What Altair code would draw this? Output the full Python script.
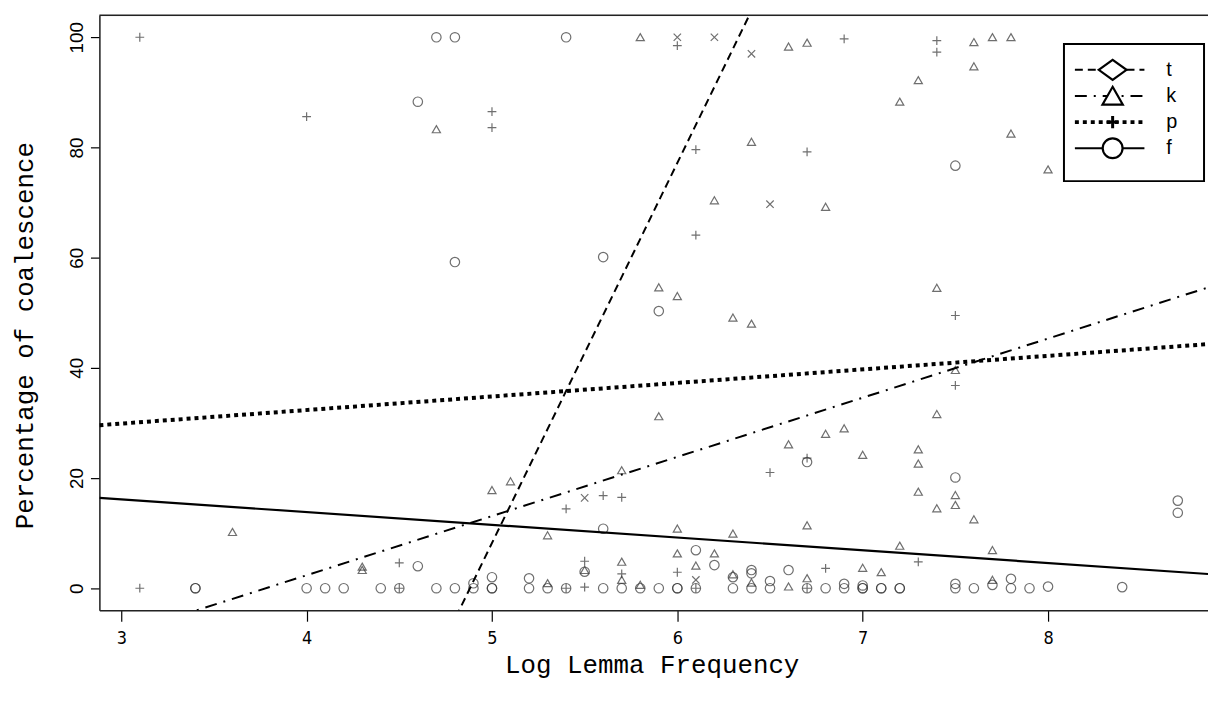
import altair as alt
import pandas as pd

# ---------------- data ----------------
series_names = ["t", "k", "p", "f"]

t_x = [5.5, 6.0, 6.2, 6.4, 6.5, 6.1]
t_y = [16.4, 100, 100, 97, 69.7, 1.5]

k_x = [3.6, 4.3, 4.3, 4.7, 5.0, 5.1, 5.3, 5.3, 5.5, 5.7, 5.7, 5.7, 5.8, 5.8, 5.9, 5.9,
       6.0, 6.0, 6.0, 6.1, 6.2, 6.2, 6.3, 6.3, 6.3, 6.4, 6.4, 6.4, 6.6, 6.6, 6.6, 6.7,
       6.7, 6.7, 6.8, 6.8, 6.9, 7.0, 7.0, 7.1, 7.2, 7.2, 7.3, 7.3, 7.3, 7.3, 7.4, 7.4,
       7.4, 7.5, 7.5, 7.5, 7.6, 7.6, 7.6, 7.7, 7.7, 7.7, 7.8, 7.8, 8.0]
k_y = [10.2, 3.3, 3.9, 83.3, 17.8, 19.4, 9.6, 0.9, 3.3, 21.4, 4.8, 1.5, 100, 0.6, 54.6, 31.2,
       53.0, 10.8, 6.3, 4.1, 70.4, 6.3, 49.1, 9.9, 2.5, 81, 48, 1.0, 98.3, 26.1, 0.3, 99,
       11.4, 1.8, 69.2, 28, 29, 24.2, 3.7, 2.9, 88.3, 7.7, 92.2, 25.2, 22.6, 17.5, 54.5, 31.6,
       14.5, 39.6, 16.9, 15.1, 99.1, 94.7, 12.5, 100, 6.9, 1.5, 100, 82.5, 76]

p_x = [3.1, 3.1, 4.0, 4.5, 4.5, 5.0, 5.0, 5.4, 5.4, 5.5, 5.5, 5.6, 5.7, 5.7, 6.0, 6.0,
       6.1, 6.1, 6.1, 6.5, 6.7, 6.7, 6.7, 6.8, 6.9, 7.3, 7.4, 7.4, 7.5, 7.5]
p_y = [100, 0, 85.6, 4.6, 0, 86.5, 83.6, 14.4, 0, 4.9, 0.2, 16.8, 16.5, 2.6, 98.5, 2.9,
       79.6, 64.1, 0, 21, 79.2, 23.6, 0, 3.6, 99.7, 4.8, 99.4, 97.3, 49.5, 36.8]

f_x = [3.4, 3.4, 4.0, 4.1, 4.2, 4.4, 4.5, 4.6, 4.6, 4.7, 4.7, 4.8, 4.8, 4.8, 4.9, 4.9,
       5.0, 5.0, 5.0, 5.2, 5.2, 5.3, 5.4, 5.4, 5.5, 5.6, 5.6, 5.6, 5.7, 5.8, 5.9, 5.9,
       6.0, 6.0, 6.1, 6.1, 6.2, 6.3, 6.3, 6.4, 6.4, 6.4, 6.5, 6.5, 6.6, 6.7, 6.7, 6.8,
       6.9, 6.9, 7.0, 7.0, 7.0, 7.1, 7.1, 7.2, 7.2, 7.5, 7.5, 7.5, 7.5, 7.6, 7.7, 7.8,
       7.8, 7.9, 8.0, 8.4, 8.7, 8.7]
f_y = [0, 0, 0, 0, 0, 0, 0, 88.3, 4.0, 100, 0, 100, 59.2, 0, 0.9, 0,
       2.0, 0, 0, 1.8, 0, 0, 100, 0, 3.0, 60.1, 10.8, 0, 0, 0, 50.3, 0,
       0, 0, 6.9, 0, 4.2, 2.0, 0, 3.3, 2.7, 0, 1.3, 0, 3.3, 22.9, 0, 0,
       0.8, 0, 0.5, 0, 0, 0, 0, 0, 0, 76.7, 20.1, 0.8, 0, 0, 0.6, 1.7,
       0, 0, 0.3, 0.2, 15.9, 13.7]

# regression lines (intercept, slope) per series
line_intercepts = [-336.8, -40.6, 22.5, 23.06]
line_slopes = [69.0, 10.74, 2.46, -2.31]

x_ticks = [3, 4, 5, 6, 7, 8]
y_ticks = [0, 20, 40, 60, 80, 100]

# ---------------- build tables ----------------
X_DOMAIN = [2.882, 8.863]
Y_DOMAIN = [-4, 104]
W, H = 1116, 599

pts = pd.concat([
    pd.DataFrame({"series": s, "x": xs, "y": ys})
    for s, xs, ys in zip(series_names, [t_x, k_x, p_x, f_x], [t_y, k_y, p_y, f_y])
], ignore_index=True)

lines = pd.DataFrame([
    {"series": s, "x": xv, "y": a + b * xv}
    for s, a, b in zip(series_names, line_intercepts, line_slopes)
    for xv in X_DOMAIN
])

X_PATH = "M-1,-1L1,1M-1,1L1,-1"
PLUS_PATH = "M-1,0L1,0M0,-1L0,1"
TRI_PATH = "M0,-0.9L1,0.85L-1,0.85Z"

x_scale = alt.Scale(domain=X_DOMAIN, nice=False, zero=False)
y_scale = alt.Scale(domain=Y_DOMAIN, nice=False, zero=False)

x_axis = alt.Axis(
    values=x_ticks, format="d", grid=False,
    tickSize=11, tickWidth=1.2, tickColor="black",
    domainColor="#222", domainWidth=1.5,
    labelFont="Liberation Sans Narrow, DejaVu Sans Condensed, Liberation Sans",
    labelFontSize=18, labelColor="black", labelPadding=8,
    title="Log Lemma Frequency", titleFont="Liberation Mono", titleFontSize=26,
    titleFontWeight="normal", titleColor="black",
    titleX=556, titleY=63, titleAlign="center", titleBaseline="alphabetic",
)
y_axis = alt.Axis(
    values=y_ticks, format="d", grid=False,
    tickSize=9, tickWidth=1.2, tickColor="black",
    domainColor="#222", domainWidth=1.5,
    labelFont="Liberation Sans", labelFontSize=19, labelColor="black",
    labelAngle=270, labelAlign="center", labelBaseline="alphabetic", labelPadding=8,
    title="Percentage of coalescence", titleFont="Liberation Mono", titleFontSize=26,
    titleFontWeight="normal", titleColor="black", titleAngle=270,
    titleX=-67, titleY=322, titleAlign="center", titleBaseline="alphabetic",
)

points = alt.Chart(pts).mark_point(
    filled=False, strokeWidth=1.2, color="#333", opacity=0.7, clip=True
).encode(
    x=alt.X("x:Q", scale=x_scale, axis=x_axis),
    y=alt.Y("y:Q", scale=y_scale, axis=y_axis),
    shape=alt.Shape("series:N", scale=alt.Scale(domain=series_names,
                    range=[X_PATH, TRI_PATH, PLUS_PATH, "circle"]), legend=None),
    size=alt.Size("series:O", scale=alt.Scale(domain=series_names,
                  range=[55, 90, 110, 62]), legend=None),
)

line_styles = {
    "t": {"strokeDash": [8, 5], "strokeWidth": 2},
    "k": {"strokeDash": [12, 7, 2, 7], "strokeWidth": 2},
    "p": {"strokeDash": [4, 4], "strokeWidth": 4},
    "f": {"strokeWidth": 2.2},
}

line_layers = []
for s in series_names:
    d = lines[lines.series == s]
    line_layers.append(
        alt.Chart(d).mark_line(color="black", clip=True, strokeCap="butt", **line_styles[s])
        .encode(x=alt.X("x:Q", scale=x_scale), y=alt.Y("y:Q", scale=y_scale))
    )

one = pd.DataFrame({"a": [0]})
top_border = alt.Chart(one).mark_rule(color="#222", strokeWidth=1.5).encode(
    x=alt.value(0), x2=alt.value(W), y=alt.value(0)
)

# ---------------- legend (drawn in pixel space of the plot) ----------------
legend_labels = ["t", "k", "p", "f"]
legend_symbols = ["M-1,0L0,-0.72L1,0L0,0.72Z", TRI_PATH, PLUS_PATH, "circle"]
legend_sizes = [784, 420, 150, 400]
LBOX = (971, 29, 1112, 167)
row_y0, row_dy = 55, 26.3
line_x0, line_x1, sym_x, text_x = 982, 1052, 1020, 1074

legend_layers = [
    alt.Chart(one).mark_rect(fill="white", stroke="black", strokeWidth=2).encode(
        x=alt.value(LBOX[0]), x2=alt.value(LBOX[2]), y=alt.value(LBOX[1]), y2=alt.value(LBOX[3])
    )
]
for i, s in enumerate(legend_labels):
    yy = row_y0 + i * row_dy
    st = dict(line_styles[s])
    legend_layers.append(
        alt.Chart(one).mark_rule(color="black", strokeCap="butt", **st).encode(
            x=alt.value(line_x0), x2=alt.value(line_x1), y=alt.value(yy)
        )
    )
    legend_layers.append(
        alt.Chart(one).mark_point(
            shape=legend_symbols[i], size=legend_sizes[i], filled=False,
            fill="white", fillOpacity=1, stroke="black", strokeWidth=2.2 if s != "p" else 3, opacity=1
        ).encode(x=alt.value(sym_x), y=alt.value(yy))
    )
    legend_layers.append(
        alt.Chart(one).mark_text(
            text=s, font="Liberation Sans", fontSize=20, color="black",
            align="left", baseline="middle"
        ).encode(x=alt.value(text_x), y=alt.value(yy))
    )

chart = alt.layer(
    points, *line_layers, top_border, *legend_layers
).properties(
    width=W, height=H,
    padding={"left": 92, "top": 5, "right": 0, "bottom": 80},
    autosize=alt.AutoSizeParams(type="none"),
).configure_view(strokeWidth=0).configure(background="white")

chart.save("out.html", embed_options={"renderer": "svg", "actions": False})
